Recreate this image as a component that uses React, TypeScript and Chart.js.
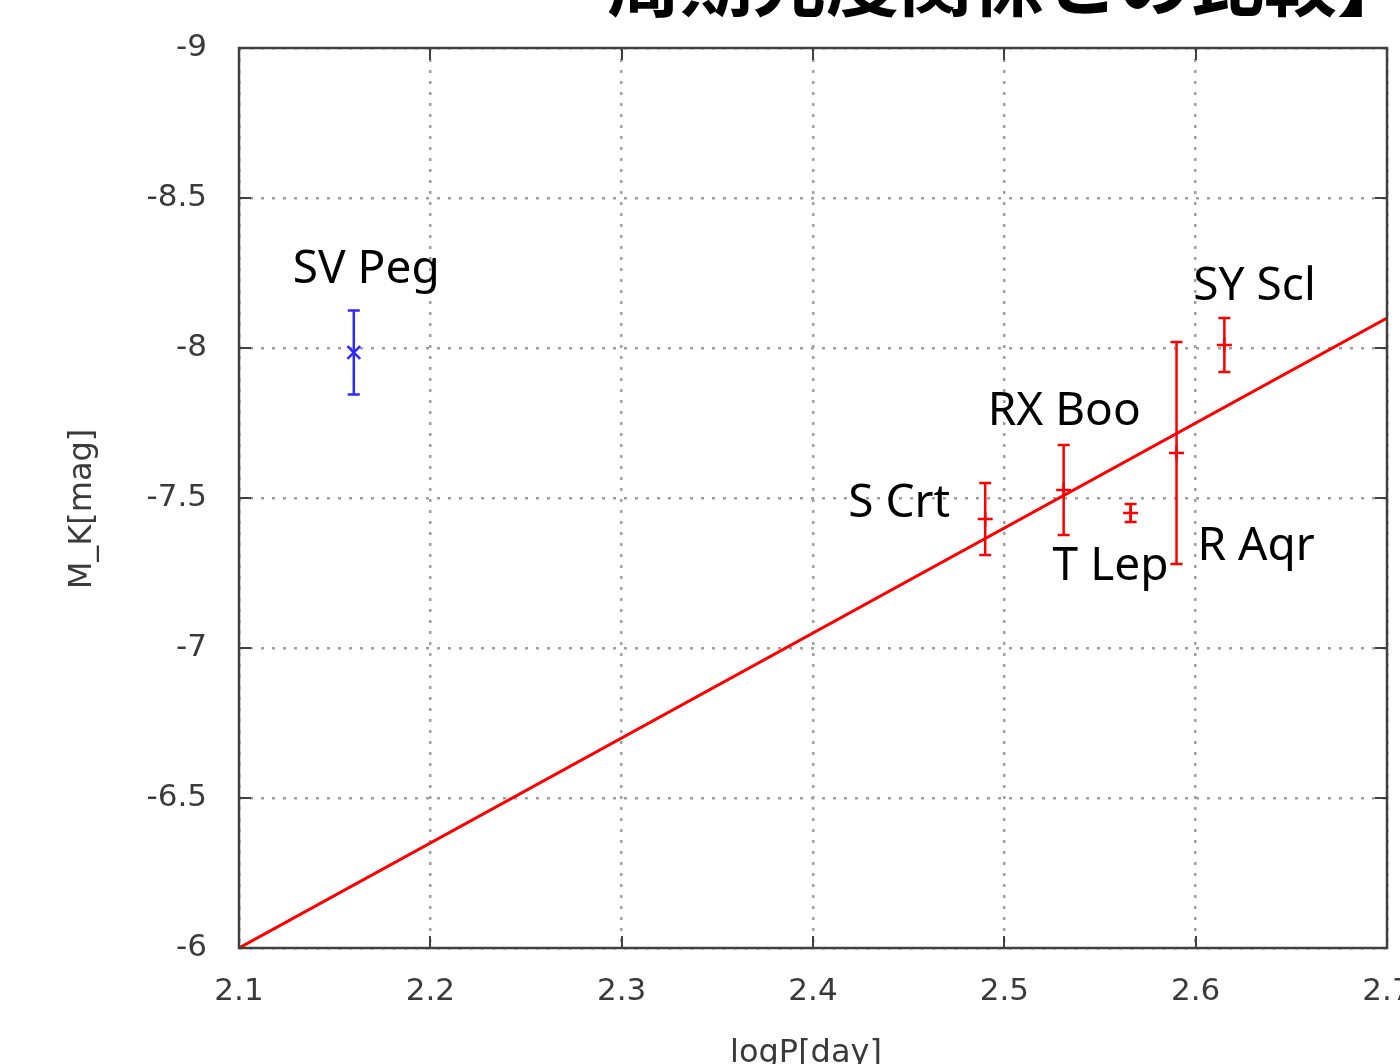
import React, { useEffect, useRef } from "react";
import { Chart, registerables } from "chart.js";

Chart.register(...registerables);

// ---- data ----
const starNames = ["S Crt", "RX Boo", "T Lep", "R Aqr", "SY Scl"];
const starLogP = [2.49, 2.531, 2.566, 2.59, 2.615];
const starMag = [-7.43, -7.527, -7.45, -7.65, -8.01];
const starErr = [0.12, 0.15, 0.03, 0.37, 0.09];

const svPegNames = ["SV Peg"];
const svPegLogP = [2.16];
const svPegMag = [-7.985];
const svPegErr = [0.14];

const fitLogP = [2.1, 2.7];
const fitMag = [-6.0, -8.1];

const xTicks = [2.1, 2.2, 2.3, 2.4, 2.5, 2.6, 2.7];
const xTickLabels = ["2.1", "2.2", "2.3", "2.4", "2.5", "2.6", "2.7"];
const yTicks = [-9, -8.5, -8, -7.5, -7, -6.5, -6];
const yTickLabels = ["-9", "-8.5", "-8", "-7.5", "-7", "-6.5", "-6"];

const titleText = "周期光度関係との比較】";
const xTitle = "logP[day]";
const yTitle = "M_K[mag]";

// ---- label placement (pixel offsets from point, style only) ----
const starLabelOffsets = [
  { dx: -35, dy: -2, align: "right" },
  { dx: -76, dy: -65, align: "left" },
  { dx: -78, dy: 67, align: "left" },
  { dx: 21, dy: 107, align: "left" },
  { dx: -31, dy: -45, align: "left" },
];
const svPegLabelOffsets = [{ dx: -61, dy: -70, align: "left" }];

const RED = "#ff0000";
const BLUE = "#2a2aff";
const FRAME = "#404040";

const decorPlugin = {
  id: "decor",
  afterDatasetsDraw(chart: any) {
    const ctx = chart.ctx;
    const xs = chart.scales.x;
    const ys = chart.scales.y;
    const area = chart.chartArea;

    // error bars
    const drawErr = (lp: number[], mg: number[], er: number[], color: string) => {
      ctx.save();
      ctx.strokeStyle = color;
      ctx.lineWidth = 2.5;
      for (let i = 0; i < lp.length; i++) {
        const px = xs.getPixelForValue(lp[i]);
        const y1 = ys.getPixelForValue(mg[i] - er[i]);
        const y2 = ys.getPixelForValue(mg[i] + er[i]);
        ctx.beginPath();
        ctx.moveTo(px, y1);
        ctx.lineTo(px, y2);
        ctx.moveTo(px - 6, y1);
        ctx.lineTo(px + 6, y1);
        ctx.moveTo(px - 6, y2);
        ctx.lineTo(px + 6, y2);
        ctx.stroke();
      }
      ctx.restore();
    };
    drawErr(starLogP, starMag, starErr, RED);
    drawErr(svPegLogP, svPegMag, svPegErr, BLUE);

    // frame
    ctx.save();
    ctx.strokeStyle = FRAME;
    ctx.lineWidth = 2.5;
    ctx.setLineDash([]);
    ctx.strokeRect(area.left, area.top, area.right - area.left, area.bottom - area.top);
    // inward ticks
    ctx.lineWidth = 2;
    ctx.beginPath();
    const tl = 12;
    xTicks.forEach((v) => {
      const px = Math.round(xs.getPixelForValue(v));
      ctx.moveTo(px, area.bottom);
      ctx.lineTo(px, area.bottom - tl);
      ctx.moveTo(px, area.top);
      ctx.lineTo(px, area.top + tl);
    });
    yTicks.forEach((v) => {
      const py = Math.round(ys.getPixelForValue(v));
      ctx.moveTo(area.left, py);
      ctx.lineTo(area.left + tl, py);
      ctx.moveTo(area.right, py);
      ctx.lineTo(area.right - tl, py);
    });
    ctx.stroke();
    ctx.restore();

    // star labels
    const drawLabels = (names: string[], lp: number[], mg: number[], offs: any[]) => {
      ctx.save();
      ctx.fillStyle = "#000";
      ctx.font = '46px "Noto Sans"';
      ctx.textBaseline = "alphabetic";
      for (let i = 0; i < names.length; i++) {
        const px = xs.getPixelForValue(lp[i]);
        const py = ys.getPixelForValue(mg[i]);
        ctx.textAlign = offs[i].align;
        ctx.fillText(names[i], px + offs[i].dx, py + offs[i].dy);
      }
      ctx.restore();
    };
    drawLabels(starNames, starLogP, starMag, starLabelOffsets);
    drawLabels(svPegNames, svPegLogP, svPegMag, svPegLabelOffsets);

    // axis titles
    ctx.save();
    ctx.fillStyle = "#3a3a3a";
    ctx.font = '32px "DejaVu Sans"';
    ctx.textAlign = "center";
    ctx.textBaseline = "alphabetic";
    ctx.fillText(xTitle, 806, 1062);
    ctx.translate(91, 509);
    ctx.rotate(-Math.PI / 2);
    ctx.fillText(yTitle, 0, 0);
    ctx.restore();

    // page title (cut off at the top)
    ctx.save();
    ctx.fillStyle = "#000";
    ctx.font = 'bold 73px "Noto Sans CJK JP"';
    ctx.textAlign = "left";
    ctx.textBaseline = "alphabetic";
    ctx.fillText(titleText, 607, 10);
    ctx.restore();
  },
};

export default function App() {
  const ref = useRef<HTMLCanvasElement | null>(null);
  useEffect(() => {
    if (!ref.current) return;
    const chart = new Chart(ref.current, {
      type: "scatter",
      data: {
        datasets: [
          {
            type: "line",
            label: "fit",
            data: fitLogP.map((x, i) => ({ x, y: fitMag[i] })),
            borderColor: RED,
            borderWidth: 3,
            pointRadius: 0,
            fill: false,
          } as any,
          {
            label: "stars",
            data: starLogP.map((x, i) => ({ x, y: starMag[i] })),
            pointStyle: "cross",
            pointRadius: 7.5,
            borderColor: RED,
            backgroundColor: RED,
            borderWidth: 2.5,
          },
          {
            label: "SV Peg",
            data: svPegLogP.map((x, i) => ({ x, y: svPegMag[i] })),
            pointStyle: "crossRot",
            pointRadius: 9,
            borderColor: BLUE,
            backgroundColor: BLUE,
            borderWidth: 2.5,
          },
        ],
      },
      options: {
        responsive: false,
        animation: false,
        layout: { padding: { top: 48, right: 13, left: 0, bottom: 0 } },
        plugins: {
          legend: { display: false },
          tooltip: { enabled: false },
          title: { display: false },
        },
        scales: {
          x: {
            type: "linear",
            min: 2.1,
            max: 2.7,
            afterBuildTicks: (s: any) => {
              s.ticks = xTicks.map((v) => ({ value: v }));
            },
            afterFit: (s: any) => {
              s.height = 116;
              s.paddingLeft = 0;
              s.paddingRight = 0;
            },
            ticks: {
              autoSkip: false,
              maxRotation: 0,
              padding: 25,
              color: "#3a3a3a",
              font: { family: "DejaVu Sans", size: 31 },
              callback: (v: any, i: number) => xTickLabels[i],
            },
            grid: { color: "#a0a0a0", lineWidth: 2.5, drawTicks: false },
            border: { display: false, dash: [3, 8] },
          },
          y: {
            type: "linear",
            min: -9,
            max: -6,
            reverse: true,
            afterBuildTicks: (s: any) => {
              s.ticks = yTicks.map((v) => ({ value: v }));
            },
            afterFit: (s: any) => {
              s.width = 239;
              s.paddingTop = 0;
              s.paddingBottom = 0;
            },
            ticks: {
              autoSkip: false,
              padding: 32,
              color: "#3a3a3a",
              font: { family: "DejaVu Sans", size: 31 },
              callback: (v: any, i: number) => yTickLabels[i],
            },
            grid: { color: "#a0a0a0", lineWidth: 2.5, drawTicks: false },
            border: { display: false, dash: [3, 8] },
          },
        },
      },
      plugins: [decorPlugin],
    });
    return () => chart.destroy();
  }, []);

  return (
    <div style={{ position: "absolute", left: 0, top: 0, width: 1400, height: 1064, background: "#fff" }}>
      <canvas ref={ref} width={1400} height={1064} style={{ display: "block" }} />
    </div>
  );
}
